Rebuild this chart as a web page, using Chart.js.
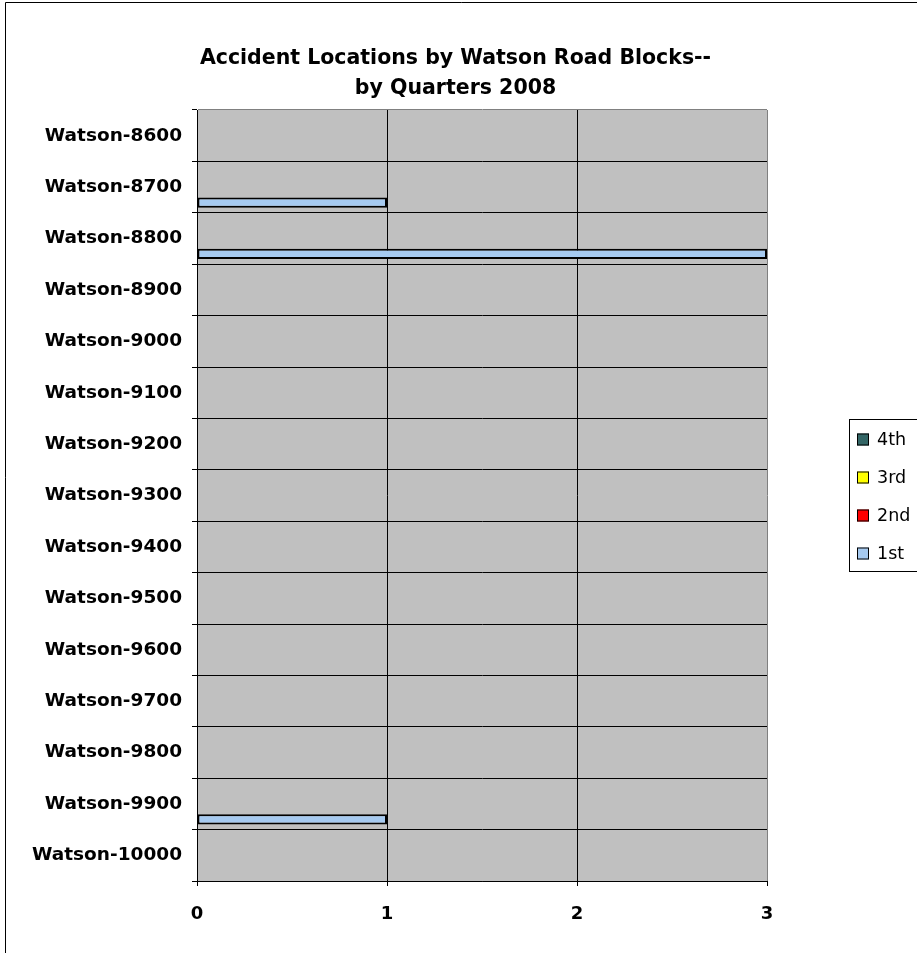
<!DOCTYPE html>
<html>
<head>
<meta charset="utf-8">
<title>Accident Locations by Watson Road Blocks</title>
<script src="https://cdn.jsdelivr.net/npm/chart.js@4.4.1/dist/chart.umd.min.js"></script>
<style>
  html, body { margin: 0; padding: 0; background: #fff; }
  #wrap { position: relative; width: 917px; height: 953px; }
</style>
</head>
<body>
<div id="wrap"><canvas id="grafico" width="917" height="953"></canvas></div>
<script>
// categorias (quarteirões da Watson Road)
const blocks = [
  "Watson-8600", "Watson-8700", "Watson-8800", "Watson-8900", "Watson-9000",
  "Watson-9100", "Watson-9200", "Watson-9300", "Watson-9400", "Watson-9500",
  "Watson-9600", "Watson-9700", "Watson-9800", "Watson-9900", "Watson-10000"
];

// acidentes por trimestre
const q1 = [0, 1, 3, 0, 0, 0, 0, 0, 0, 0, 0, 0, 0, 1, 0];
const q2 = [0, 0, 0, 0, 0, 0, 0, 0, 0, 0, 0, 0, 0, 0, 0];
const q3 = [0, 0, 0, 0, 0, 0, 0, 0, 0, 0, 0, 0, 0, 0, 0];
const q4 = [0, 0, 0, 0, 0, 0, 0, 0, 0, 0, 0, 0, 0, 0, 0];

const quarterNames = ["1st", "2nd", "3rd", "4th"];
const quarterColors = ["#A6CAF0", "#FF0000", "#FFFF00", "#336666"];
const xTicks = [0, 1, 2, 3];

const titleLines = ["Accident Locations by Watson Road Blocks--", "by Quarters 2008"];

const FONT = "'DejaVu Sans', 'Liberation Sans', Arial, sans-serif";

// series go top->bottom inside each band, so 4th first, 1st last (like Excel)
const seriesData = [q1, q2, q3, q4];
const datasets = [3, 2, 1, 0].map(i => ({
  label: quarterNames[i],
  data: seriesData[i],
  backgroundColor: quarterColors[i],
  borderColor: "#000",
  borderWidth: 2,
  borderSkipped: false
}));

// fundo cinza da área do gráfico + moldura
const plotBackground = {
  id: "plotBackground",
  beforeDraw(chart) {
    const { ctx, chartArea: a } = chart;
    ctx.save();
    ctx.fillStyle = "#C0C0C0";
    ctx.fillRect(a.left, a.top, a.right - a.left, a.bottom - a.top);
    ctx.restore();
  },
  afterDraw(chart) {
    const ctx = chart.ctx;
    ctx.save();
    ctx.strokeStyle = "#000";
    ctx.lineWidth = 1;
    ctx.beginPath();
    ctx.moveTo(5.5, chart.height);
    ctx.lineTo(5.5, 2.5);
    ctx.lineTo(chart.width, 2.5);
    ctx.stroke();
    ctx.restore();
  }
};

// legenda desenhada à mão, com borda
const boxLegend = {
  id: "boxLegend",
  afterDraw(chart) {
    const ctx = chart.ctx;
    const left = 849, top = 419, h = 152;
    ctx.save();
    ctx.strokeStyle = "#000";
    ctx.lineWidth = 1;
    ctx.strokeRect(left + 0.5, top + 0.5, 120, h);
    ctx.font = "17.5px " + FONT;
    ctx.textBaseline = "middle";
    chart.data.datasets.forEach((ds, i) => {
      const cy = 439.5 + i * 38;
      ctx.fillStyle = ds.backgroundColor;
      ctx.fillRect(857, cy - 6, 12, 12);
      ctx.strokeRect(857.5, cy - 5.5, 11, 11);
      ctx.fillStyle = "#000";
      ctx.fillText(ds.label, 877, cy + 1);
    });
    ctx.restore();
  }
};

const ctx = document.getElementById("grafico").getContext("2d");
new Chart(ctx, {
  type: "bar",
  data: { labels: blocks, datasets: datasets },
  options: {
    indexAxis: "y",
    responsive: false,
    animation: false,
    categoryPercentage: 0.8,
    barPercentage: 1,
    layout: { padding: { top: 0, left: 0, right: 6, bottom: 0 } },
    plugins: {
      legend: { display: false },
      tooltip: { enabled: false },
      title: {
        display: true,
        text: titleLines,
        color: "#000",
        font: { family: FONT, size: 20.5, weight: "bold", lineHeight: 1.5 },
        padding: { top: 43, bottom: 5.5 }
      }
    },
    scales: {
      x: {
        type: "linear",
        min: xTicks[0],
        max: xTicks[xTicks.length - 1],
        afterBuildTicks: s => { s.ticks = xTicks.map(v => ({ value: v })); },
        afterFit: s => { s.height = 72; },
        grid: {
          color: c => (c.tick && c.tick.value === 3 ? "#808080" : "#000"),
          tickColor: "#000",
          tickLength: 5,
          lineWidth: 1
        },
        border: { color: "#000", width: 1 },
        ticks: {
          color: "#000",
          padding: 18,
          font: { family: FONT, size: 18, weight: "bold" }
        }
      },
      y: {
        type: "category",
        offset: true,
        afterFit: s => { s.width = 197; },
        grid: {
          offset: true,
          color: c => (c.index === 0 ? "#808080" : "#000"),
          tickColor: "#000",
          tickLength: 5,
          lineWidth: 1
        },
        border: { color: "#000", width: 1 },
        ticks: {
          color: "#000",
          padding: 10,
          font: { family: FONT, size: 18.5, weight: "bold" }
        }
      },
      // eixo vazio à direita, só para reservar o espaço da legenda
      yLegenda: {
        type: "category",
        position: "right",
        afterFit: s => { s.width = 144; },
        grid: { display: false },
        border: { display: false },
        ticks: { display: false }
      }
    }
  },
  plugins: [plotBackground, boxLegend]
});
</script>
</body>
</html>
